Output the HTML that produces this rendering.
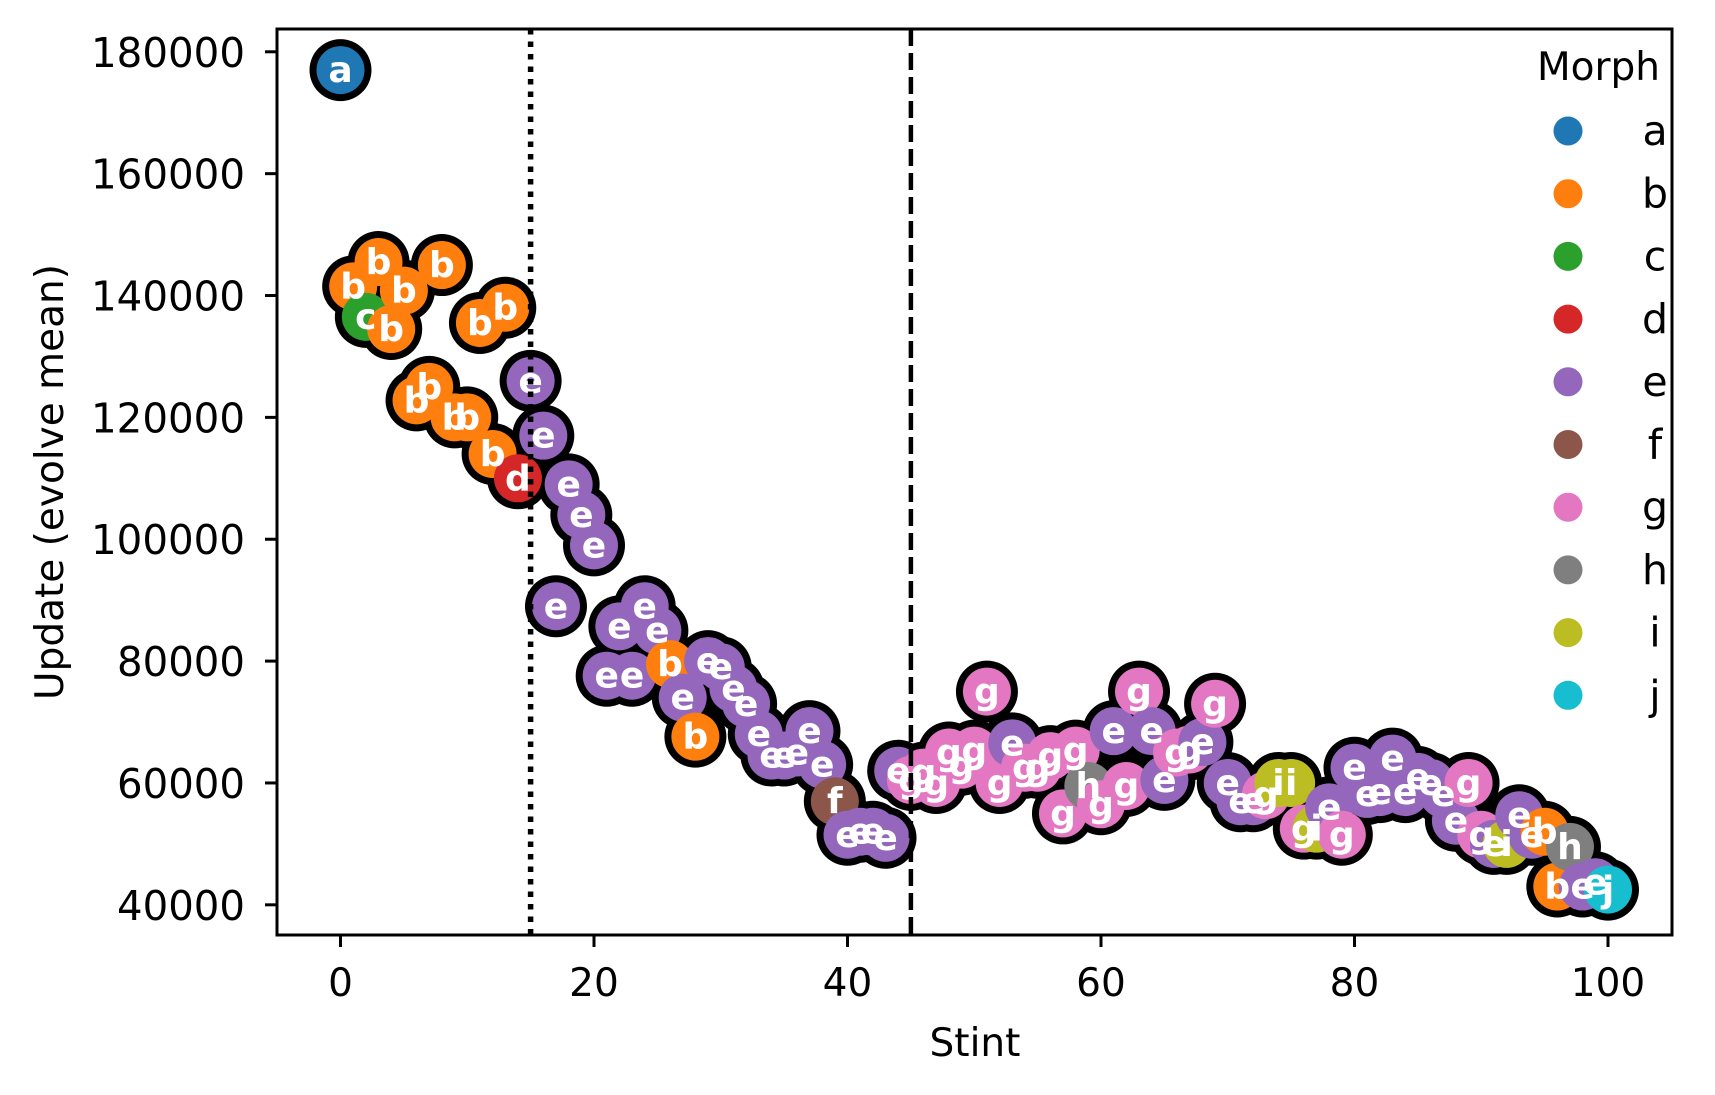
<!DOCTYPE html>
<html><head><meta charset="utf-8"><style>
html,body{margin:0;padding:0;background:#fff;}
svg{display:block;font-family:"DejaVu Sans","Liberation Sans",sans-serif;}
</style></head><body>
<svg id="chart" width="1715" height="1095" viewBox="0 0 1715 1095" xmlns="http://www.w3.org/2000/svg">
<rect x="0" y="0" width="1715" height="1095" fill="#fff"/>
<g id="marks-outline"></g>
<g id="marks"></g>
<g id="labels"></g>
<line x1="530.6" y1="29" x2="530.6" y2="935" stroke="#000" stroke-width="5.5" stroke-dasharray="5.5,7"/>
<line x1="910.9" y1="29" x2="910.9" y2="935" stroke="#000" stroke-width="4.5" stroke-dasharray="17,7"/>
<g id="axes"></g>
<g id="legend"></g>
<text x="975" y="1056" font-size="39" text-anchor="middle">Stint</text>
<text transform="translate(63,482) rotate(-90)" font-size="39" text-anchor="middle">Update (evolve mean)</text>
</svg>
<script>
const stints = [0,1,2,3,4,5,6,7,8,9,10,11,12,13,14,15,16,17,18,19,20,21,22,23,24,25,26,27,28,29,30,31,32,33,34,35,36,37,38,39,40,41,42,43,44,45,46,47,48,49,50,51,52,53,54,55,56,57,58,59,60,61,62,63,64,65,66,67,68,69,70,71,72,73,74,75,76,77,78,79,80,81,82,83,84,85,86,87,88,89,90,91,92,93,94,95,96,97,98,99,100];
const updates = [177000,141500,136500,145500,134500,140800,122800,125000,145000,120000,120000,135500,114000,138000,110000,126000,117000,89000,109000,104000,99000,77600,85700,77600,89000,85000,79500,74000,67600,80000,79000,75500,73000,68000,64500,64500,65000,68500,63000,57000,51500,52000,52000,51000,62000,60500,61700,60000,65000,63000,65300,75000,60000,66500,62500,62500,64400,55000,65300,59500,56500,68500,59500,75000,68500,60500,65000,65500,66700,73000,60000,57000,57000,58000,60000,60000,52500,52500,56000,51500,62500,58200,58500,64000,58500,61000,60000,58200,53800,60000,51500,50000,50000,54700,51500,52000,43000,49500,43000,43700,42500];
const morphs = ["a","b","c","b","b","b","b","b","b","b","b","b","b","b","d","e","e","e","e","e","e","e","e","e","e","e","b","e","b","e","e","e","e","e","e","e","e","e","e","f","e","e","e","e","e","g","g","g","g","g","g","g","g","e","g","g","g","g","g","h","g","e","g","g","e","e","g","g","e","g","e","e","e","g","i","i","g","i","e","g","e","e","e","e","e","e","e","e","e","g","g","e","i","e","e","b","b","h","e","e","j"];
const legendMorphs = ["a","b","c","d","e","f","g","h","i","j"];
const xTicks = [0,20,40,60,80,100];
const yTicks = [40000,60000,80000,100000,120000,140000,160000,180000];

const colors = {a:"#1f77b4",b:"#ff7f0e",c:"#2ca02c",d:"#d62728",e:"#9467bd",f:"#8c564b",g:"#e377c2",h:"#7f7f7f",i:"#bcbd22",j:"#17becf"};
const NS = "http://www.w3.org/2000/svg";
const L=277,R=1672,T=29,B=935;
function xs(v){return 340.5 + v*12.675;}
function ys(v){return 51.8 + (180000-v)*0.006093;}
function mk(tag, attrs, parent){const e=document.createElementNS(NS,tag);for(const k in attrs)e.setAttribute(k,attrs[k]);parent.appendChild(e);return e;}

const gO=document.getElementById('marks-outline'), gM=document.getElementById('marks'), gL=document.getElementById('labels');
for(let i=0;i<stints.length;i++){
  const cx=xs(stints[i]), cy=ys(updates[i]);
  const o=mk('circle',{cx:cx,cy:cy,r:31,fill:'#000'},gO);
  
  
  const c=mk('circle',{cx:cx,cy:cy,r:24,fill:colors[morphs[i]]},gM);
  
  
  const t=mk('text',{x:cx,y:cy+12,'font-size':36,'font-weight':'bold','text-anchor':'middle',fill:'#fff'},gL);
  
  
  t.textContent=morphs[i];
}
const gA=document.getElementById('axes');
const fr=mk('rect',{x:L,y:T,width:R-L,height:B-T,fill:'none',stroke:'#000','stroke-width':3},gA);


for(const v of xTicks){
  const x=xs(v);
  const tk=mk('line',{x1:x,y1:B,x2:x,y2:B+12,stroke:'#000','stroke-width':3},gA);
  
  
  const t=mk('text',{x:x,y:996,'font-size':39,'text-anchor':'middle'},gA);
  
  
  t.textContent=v;
}
for(const v of yTicks){
  const y=ys(v);
  const tk=mk('line',{x1:L-12,y1:y,x2:L,y2:y,stroke:'#000','stroke-width':3},gA);
  
  
  const s=String(v);
  const t=mk('text',{x:91,y:y+15,'font-size':41,textLength:(s.length===6?154:128),lengthAdjust:'spacingAndGlyphs'},gA);
  if(s.length===5) t.setAttribute('x',117);
  
  
  t.textContent=s;
}
const gLg=document.getElementById('legend');
const lt=mk('text',{x:1660,y:80,'font-size':39,'text-anchor':'end'},gLg);


lt.textContent='Morph';
legendMorphs.forEach((m,i)=>{
  const y=131+i*62.7;
  const c=mk('circle',{cx:1568,cy:y,r:14.5,fill:colors[m]},gLg);
  
  
  const t=mk('text',{x:1655,y:y+14,'font-size':41,'text-anchor':'middle'},gLg);
  
  
  t.textContent=m;
});
</script>
</body></html>
